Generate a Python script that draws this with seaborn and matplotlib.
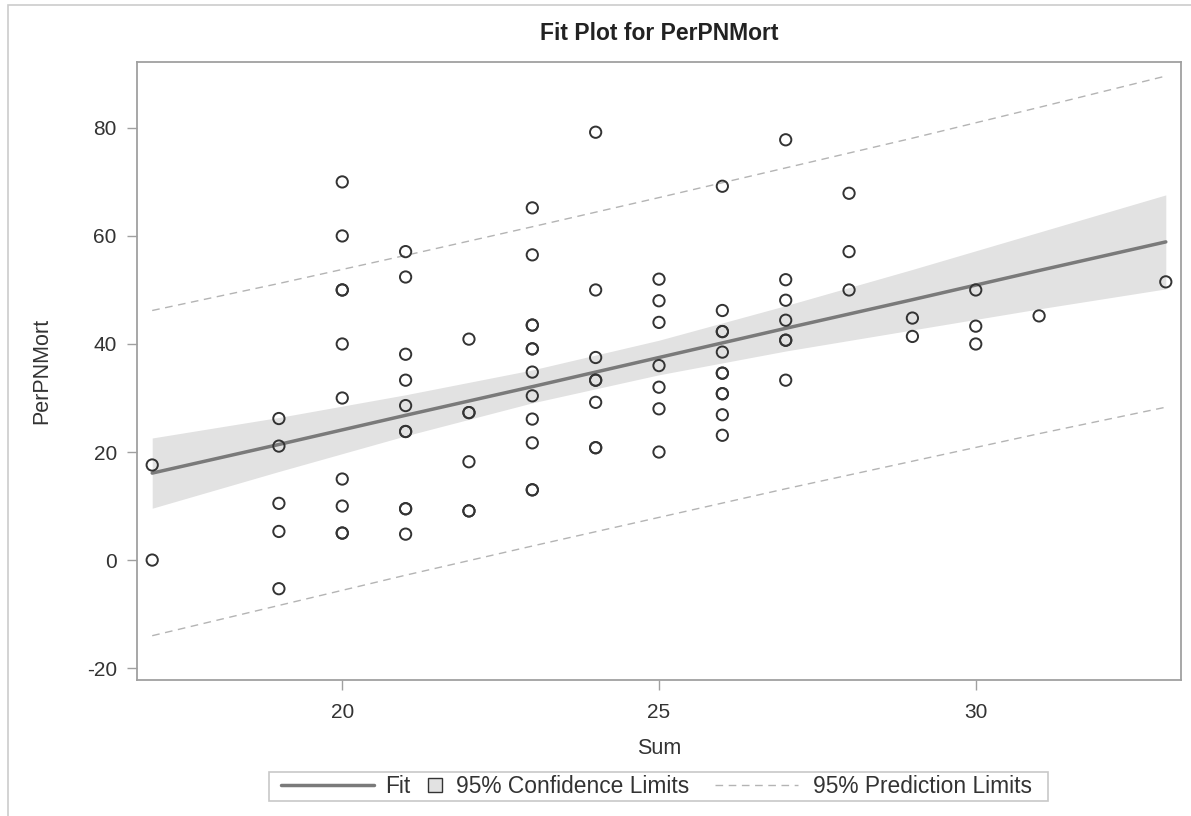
import numpy as np
import pandas as pd
import matplotlib
matplotlib.use("Agg")
import matplotlib.pyplot as plt
import seaborn as sns
from matplotlib.lines import Line2D
from matplotlib.patches import Rectangle

# ---------------- data ----------------
sum_17 = [17.6, 0.0]
sum_19 = [26.2, 21.1, 10.5, 5.3, -5.3]
sum_20 = [70.0, 60.0, 50.0, 50.0, 40.0, 30.0, 15.0, 10.0, 5.0, 5.0]
sum_21 = [57.1, 52.4, 38.1, 33.3, 28.6, 23.8, 23.8, 9.5, 9.5, 4.8]
sum_22 = [40.9, 27.3, 27.3, 18.2, 9.1, 9.1]
sum_23 = [65.2, 56.5, 43.5, 43.5, 39.1, 39.1, 34.8, 30.4, 26.1, 21.7, 13.0, 13.0]
sum_24 = [79.2, 50.0, 37.5, 33.3, 33.3, 29.2, 20.8, 20.8]
sum_25 = [52.0, 48.0, 44.0, 36.0, 32.0, 28.0, 20.0]
sum_26 = [69.2, 46.2, 42.3, 42.3, 38.5, 34.6, 34.6, 30.8, 30.8, 26.9, 23.1]
sum_27 = [77.8, 51.9, 48.1, 44.4, 40.7, 40.7, 33.3]
sum_28 = [67.9, 57.1, 50.0]
sum_29 = [44.8, 41.4]
sum_30 = [50.0, 43.3, 40.0]
sum_31 = [45.2]
sum_33 = [51.5]

groups = {17: sum_17, 19: sum_19, 20: sum_20, 21: sum_21, 22: sum_22, 23: sum_23,
          24: sum_24, 25: sum_25, 26: sum_26, 27: sum_27, 28: sum_28, 29: sum_29,
          30: sum_30, 31: sum_31, 33: sum_33}

# fit line and limits
band_x = [17, 19, 21, 23, 25, 27, 29, 31, 33]
fit_y = [16.1, 21.4, 26.8, 32.1, 37.5, 42.9, 48.2, 53.6, 58.9]
ci_lower = [9.6, 16.4, 23.0, 29.1, 34.3, 38.7, 42.6, 46.5, 50.2]
ci_upper = [22.6, 26.4, 30.6, 35.2, 40.7, 47.1, 53.8, 60.7, 67.6]
pi_lower = [-14.0, -8.4, -2.8, 2.6, 7.9, 13.2, 18.3, 23.4, 28.3]
pi_upper = [46.2, 51.2, 56.4, 61.7, 67.1, 72.6, 78.1, 83.8, 89.6]

x_ticks = [20, 25, 30]
y_ticks = [-20, 0, 20, 40, 60, 80]
title = "Fit Plot for PerPNMort"
x_label = "Sum"
y_label = "PerPNMort"
legend_labels = ["Fit", "95% Confidence Limits", "95% Prediction Limits"]

rows = [(k, v) for k, vals in groups.items() for v in vals]
df = pd.DataFrame(rows, columns=["Sum", "PerPNMort"])
bands = pd.DataFrame({"Sum": band_x, "Fit": fit_y, "LCLM": ci_lower, "UCLM": ci_upper,
                      "LCL": pi_lower, "UCL": pi_upper})

# ---------------- figure ----------------
sns.set_theme(style="white")
plt.rcParams["font.family"] = ["Liberation Sans", "DejaVu Sans"]
plt.rcParams["axes.unicode_minus"] = False

W, H = 1191, 816
fig = plt.figure(figsize=(W / 100, H / 100), dpi=100)
ax = fig.add_axes([137 / W, 1 - 680 / H, (1181 - 137) / W, (680 - 62) / H])

frame_col = "#a0a0a0"
text_col = "#333333"
fit_col = "#7a7a7a"
band_col = "#e2e2e2"
pl_col = "#b4b4b4"
pl_ls = (0, (5.5, 4))

ax.fill_between(bands["Sum"], bands["LCLM"], bands["UCLM"], color=band_col, lw=0, zorder=1)
sns.lineplot(data=bands, x="Sum", y="UCL", ax=ax, color=pl_col, lw=1.0, linestyle=pl_ls, zorder=2)
sns.lineplot(data=bands, x="Sum", y="LCL", ax=ax, color=pl_col, lw=1.0, linestyle=pl_ls, zorder=2)
sns.lineplot(data=bands, x="Sum", y="Fit", ax=ax, color=fit_col, lw=2.5, zorder=3)
sns.scatterplot(data=df, x="Sum", y="PerPNMort", ax=ax, marker="o", s=66,
                facecolor="none", edgecolor="#333333", linewidth=1.4, zorder=4)

ax.set_xlim(16.76, 33.24)
ax.set_ylim(-22.2, 92.2)
ax.set_xticks(x_ticks)
ax.set_yticks(y_ticks)
ax.tick_params(axis="both", which="major", length=7.3, width=1, color=frame_col,
               labelsize=15, labelcolor=text_col, bottom=True, left=True)
ax.tick_params(axis="x", pad=9)
ax.tick_params(axis="y", pad=7.2)
for sp in ax.spines.values():
    sp.set_color(frame_col)
    sp.set_linewidth(1.3)
ax.set_xlabel(x_label, fontsize=15.5, color=text_col, labelpad=12)
ax.set_ylabel(y_label, fontsize=15.5, color=text_col, labelpad=25)
ax.set_title(title, fontsize=16.5, fontweight="bold", color="#222222", pad=16)

# ---------------- legend (three entries laid out like the reference) ----------------
leg_fs = 16.4
em = leg_fs * 100 / 72
y_leg = 1 - 786.5 / H
common = dict(loc="center left", fontsize=leg_fs, frameon=False, borderpad=0,
              borderaxespad=0, labelcolor=text_col)
h_fit = Line2D([], [], color=fit_col, lw=2.5)
h_ci = Rectangle((0, 0), 1, 1, facecolor=band_col, edgecolor="#333333", lw=1.0)
h_pi = Line2D([], [], color=pl_col, lw=1.0, ls=pl_ls)
fig.legend([h_fit], [legend_labels[0]], bbox_to_anchor=(281 / W, y_leg),
           handlelength=93 / em, handletextpad=11 / em, **common)
fig.legend([h_ci], [legend_labels[1]], bbox_to_anchor=(428 / W, y_leg),
           handlelength=14 / em, handleheight=14 / em, handletextpad=14 / em, **common)
fig.legend([h_pi], [legend_labels[2]], bbox_to_anchor=(715 / W, y_leg),
           handlelength=83 / em, handletextpad=15 / em, **common)
fig.add_artist(Rectangle((269 / W, 1 - 801 / H), (1048 - 269) / W, 29 / H,
                         transform=fig.transFigure, fill=False, edgecolor="#c8c8c8", lw=1.2))

# outer border of the graph area
fig.add_artist(Rectangle((8 / W, -0.05), 1.1, 1 - 5 / H + 0.05, transform=fig.transFigure,
                         fill=False, edgecolor="#cccccc", lw=1.2))

fig.savefig("out.png", dpi=100)
